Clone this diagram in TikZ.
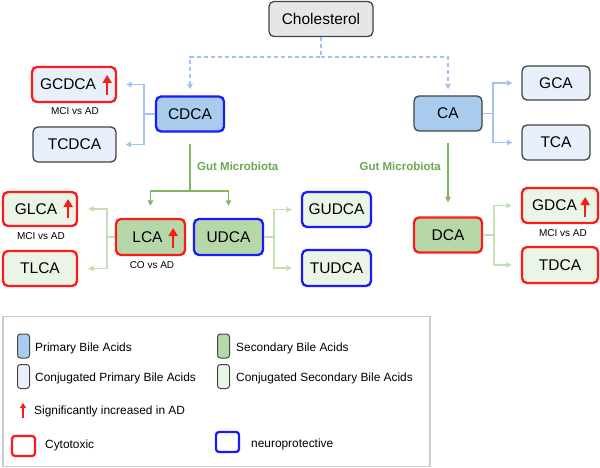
\documentclass[tikz,border=0pt]{standalone}
\usepackage{fontspec}
\setmainfont{Liberation Sans}
\usetikzlibrary{arrows.meta}
\usetikzlibrary{positioning}

\definecolor{primfill}{HTML}{A9CBEE}
\definecolor{cprimfill}{HTML}{E8F1FB}
\definecolor{secfill}{HTML}{B6D7A8}
\definecolor{csecfill}{HTML}{EBF5E5}
\definecolor{cholfill}{HTML}{E6E6E6}
\definecolor{boxgray}{HTML}{444444}
\definecolor{toxred}{HTML}{FF1A1A}
\definecolor{protblue}{HTML}{1A1AFF}
\definecolor{connblue}{HTML}{A4C2F4}
\definecolor{gutgreen}{HTML}{7FB661}
\definecolor{guttext}{HTML}{6AA84F}
\definecolor{conjgreen}{HTML}{C2E0B4}
\definecolor{legframe}{HTML}{CCCCCC}

\begin{document}
\begin{tikzpicture}[x=1pt, y=-1pt,
  box/.style={rounded corners=5pt, minimum height=35pt, inner sep=0pt, draw=boxgray, line width=1.3pt, font=\fontsize{15.5}{18}\selectfont},
  prim/.style={box, fill=primfill}, cprim/.style={box, fill=cprimfill},
  sec/.style={box, fill=secfill}, csec/.style={box, fill=csecfill},
  tox/.style={draw=toxred, line width=2.3pt}, prot/.style={draw=protblue, line width=2.3pt},
  bline/.style={draw=connblue, line width=1.3pt},
  dline/.style={bline, dash pattern=on 4pt off 3pt},
  gline/.style={draw=gutgreen, line width=1.5pt},
  lgline/.style={draw=conjgreen, line width=1.3pt},
  incr/.style={draw=toxred, line width=2.6pt, -{Triangle[length=8pt,width=9pt]}},
  note/.style={font=\fontsize{10}{12}\selectfont},
  gut/.style={text=guttext, font=\bfseries\fontsize{11.5}{13}\selectfont, inner sep=0pt},
  swatch/.style={rounded corners=3pt, minimum width=12pt, minimum height=24pt, inner sep=0pt, draw=boxgray, line width=1pt},
  leg/.style={anchor=west, inner sep=0pt, font=\fontsize{11.9}{14}\selectfont},
  >={Triangle[length=5.5pt,width=5.5pt]}]
\useasboundingbox (0,0) rectangle (600,468);

% primary bile acids
\node[box, fill=cholfill, minimum width=104pt] (chol) at (321,19) {Cholesterol};
\node[prim, prot, minimum width=68pt] (cdca) at (190,114) {CDCA};
\node[prim, minimum width=68pt] (ca) at (448,113.5) {CA};
\node[cprim, tox, minimum width=84pt] (gcdca) at (74,84.5) {GCDCA\mbox{\hspace{12pt}}};
\node[cprim, minimum width=83pt] (tcdca) at (74.5,144.5) {TCDCA};
\node[cprim, minimum width=68pt, minimum height=34pt] (gca) at (556,83) {GCA};
\node[cprim, minimum width=68pt] (tca) at (556,142.5) {TCA};

% secondary bile acids
\node[sec, tox, minimum width=69pt, minimum height=36pt] (lca) at (150.5,237) {LCA\mbox{\hspace{6pt}}};
\node[sec, prot, minimum width=69pt, minimum height=36pt] (udca) at (228.5,237) {UDCA};
\node[csec, tox, minimum width=74pt, minimum height=34pt] (glca) at (40,209) {GLCA\mbox{\hspace{8pt}}};
\node[csec, tox, minimum width=74pt] (tlca) at (40,268.5) {TLCA};
\node[csec, prot, minimum width=69pt] (gudca) at (336.5,209.5) {GUDCA};
\node[csec, prot, minimum width=69pt, minimum height=36pt] (tudca) at (336.5,268) {TUDCA};
\node[sec, tox, minimum width=68pt] (dca) at (448,235) {DCA};
\node[csec, tox, minimum width=76pt] (gdca) at (560,205.5) {GDCA\mbox{\hspace{11pt}}};
\node[csec, tox, minimum width=76pt, minimum height=36pt] (tdca) at (560,265) {TDCA};

% increases
\draw[incr] ([xshift=-10pt,yshift=-10.5pt]gcdca.east) --++(0,-20);
\draw[incr] ([xshift=-10pt,yshift=-9pt]glca.east) --++(0,-19);
\draw[incr] ([xshift=-13pt,yshift=-11pt]lca.east) --++(0,-20);
\draw[incr] ([xshift=-14pt,yshift=-11.5pt]gdca.east) --++(0,-20);
\node[note] (n1) at (75,111) {MCI vs AD};
\node[note] (n2) at (41,236) {MCI vs AD};
\node[note] (n3) at (152,265) {CO vs AD};
\node[note] (n4) at (563,233) {MCI vs AD};

% synthesis
\coordinate (dj) at (321,57);
\draw[dline,->,shorten >=6pt] (chol.south) -- (dj) -| (cdca.north);
\draw[dline,->,shorten >=6pt] (dj) -| (ca.north);

% conjugation
\coordinate (cj) at (144,114);
\draw[bline] (cdca.west) -- (cj);
\draw[bline,->,shorten >=9pt] (cj) |- (gcdca.east);
\draw[bline,->,shorten >=9pt] (cj) |- (tcdca.east);
\coordinate (aj) at (493,113.5);
\draw[bline] (ca.east) -- (aj);
\draw[bline,->,shorten >=9pt] (aj) |- (gca.west);
\draw[bline,->,shorten >=9pt] (aj) |- (tca.west);
\coordinate (lj) at (107,237);
\draw[lgline] (lca.west) -- (lj);
\draw[lgline,->,shorten >=10pt] (lj) |- (glca.east);
\draw[lgline,->,shorten >=10pt] (lj) |- (tlca.east);
\coordinate (uj) at (274,237);
\draw[lgline] (udca.east) -- (uj);
\draw[lgline,->,shorten >=9pt] (uj) |- (gudca.west);
\draw[lgline,->,shorten >=9pt] (uj) |- (tudca.west);
\coordinate (ej) at (494,235);
\draw[lgline] (dca.east) -- (ej);
\draw[lgline,->,shorten >=9pt] (ej) |- (gdca.west);
\draw[lgline,->,shorten >=9pt] (ej) |- (tdca.west);

% gut microbiota
\coordinate (gj) at (190,191);
\draw[gline,shorten <=11pt] (cdca.south) -- (gj);
\draw[gline,->,shorten >=12pt] (gj) -| (lca.north);
\draw[gline,->,shorten >=12pt] (gj) -| (udca.north);
\draw[gline,->,shorten <=11pt,shorten >=14pt] (ca.south) -- (dca.north);
\node[gut, anchor=west] (gm1) at (197,166) {Gut Microbiota};
\node[gut, anchor=east] (gm2) at (441,166) {Gut Microbiota};

% legend
\draw[legframe, line width=1.2pt] (3,316.5) rectangle (430,466.5);
\node[swatch, fill=primfill] (s1) at (23.5,346) {};
\node[leg] (l1) at (35,348) {Primary Bile Acids};
\node[swatch, fill=cprimfill] (s2) at (23.5,376.5) {};
\node[leg] (l2) at (35,378) {Conjugated Primary Bile Acids};
\node[swatch, fill=secfill] (s3) at (223.5,346) {};
\node[leg] (l3) at (236,348) {Secondary Bile Acids};
\node[swatch, fill=csecfill] (s4) at (223.5,376.5) {};
\node[leg] (l4) at (236,378) {Conjugated Secondary Bile Acids};
\draw[toxred, line width=2pt, -{Triangle[length=5pt,width=6pt]}] (23,418) -- (23,403);
\node[leg] (l5) at (34,411) {Significantly increased in AD};
\node[swatch, tox, minimum width=23pt, minimum height=20pt] (s5) at (23.5,446) {};
\node[leg] (l6) at (45,445) {Cytotoxic};
\node[swatch, prot, minimum width=23pt, minimum height=20pt] (s6) at (227.5,442) {};
\node[leg] (l7) at (251,444) {neuroprotective};
\end{tikzpicture}
\end{document}
